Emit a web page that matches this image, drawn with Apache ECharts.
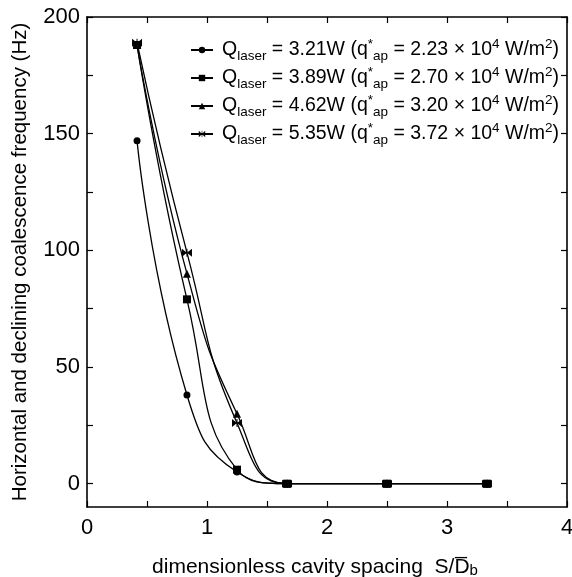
<!DOCTYPE html>
<html><head><meta charset="utf-8">
<script src="https://cdn.jsdelivr.net/npm/echarts@6/dist/echarts.min.js"></script>
<style>html,body{margin:0;padding:0;background:#fff}#c{width:572px;height:577px}</style>
</head><body><div id="c"></div>
<script>
const spacing = [0.417, 0.833, 1.25, 1.667, 2.5, 3.333];
const q321 = [147, 38, 5, 0, 0, 0];
const q389 = [188, 79, 6, 0, 0, 0];
const q462 = [188, 90, 30, 0, 0, 0];
const q535 = [189, 99, 26, 0, 0, 0];
const xLabels = [0, 1, 2, 3, 4];
const yLabels = [0, 50, 100, 150, 200];
const xTicks = [0, 0.5, 1, 1.5, 2, 2.5, 3, 3.5, 4];
const yTicks = [0, 25, 50, 75, 100, 125, 150, 175, 200];
const legendNames = ['s1', 's2', 's3', 's4'];
const legendRich = {
  s1: 'Q{sub|laser}{n| = 3.21W (q}{sup|*}{sub|ap}{n| = 2.23 × 10}{sup|4}{n| W/m}{sup|2}{n|)}',
  s2: 'Q{sub|laser}{n| = 3.89W (q}{sup|*}{sub|ap}{n| = 2.70 × 10}{sup|4}{n| W/m}{sup|2}{n|)}',
  s3: 'Q{sub|laser}{n| = 4.62W (q}{sup|*}{sub|ap}{n| = 3.20 × 10}{sup|4}{n| W/m}{sup|2}{n|)}',
  s4: 'Q{sub|laser}{n| = 5.35W (q}{sup|*}{sub|ap}{n| = 3.72 × 10}{sup|4}{n| W/m}{sup|2}{n|)}'
};
const symbols = ['circle', 'rect', 'triangle', 'path://M0,0L10,5L0,10Z M20,0L10,5L20,10Z M9,0L11,0L11,10L9,10Z'];
const sizes = [7, 8, 8, [10, 8]];
const values = [q321, q389, q462, q535];

const FONT = '"Liberation Sans", Arial, sans-serif';
const chart = echarts.init(document.getElementById('c'));
const series = values.map((v, i) => ({
  name: legendNames[i],
  type: 'line',
  data: spacing.map((x, j) => [x, v[j]]),
  smooth: 0.5,
  symbol: symbols[i],
  symbolSize: sizes[i],
  showSymbol: true,
  lineStyle: { color: '#000', width: 1.3 },
  itemStyle: { color: '#000', borderWidth: 0 },
  z: 3 + i
}));

const axisCommon = {
  axisLine: { show: true, onZero: false, lineStyle: { color: '#000', width: 1.6 } },
  axisTick: { show: true, inside: true, length: 6, lineStyle: { color: '#000', width: 1.2 } },
  splitLine: { show: false }
};

chart.setOption({
  animation: false,
  backgroundColor: '#fff',
  grid: { left: 87, right: 5, top: 17, bottom: 70, containLabel: false, outerBoundsMode: 'none' },
  legend: {
    data: legendNames,
    orient: 'vertical',
    left: 185,
    top: 32,
    itemWidth: 22,
    itemHeight: 8,
    itemGap: 2,
    formatter: n => legendRich[n],
    textStyle: {
      color: '#000', fontFamily: FONT, fontSize: 19.5, lineHeight: 26, padding: [0, 0, 0, 4],
      rich: {
        n: { fontSize: 19.5, fontFamily: FONT, color: '#000', lineHeight: 26, verticalAlign: 'middle' },
        sub: { fontSize: 13.5, fontFamily: FONT, color: '#000', lineHeight: 14, verticalAlign: 'bottom' },
        sup: { fontSize: 13.5, fontFamily: FONT, color: '#000', lineHeight: 10, verticalAlign: 'top' }
      }
    }
  },
  xAxis: [{
    type: 'value', min: 0, max: 4, position: 'bottom',
    ...axisCommon,
    axisTick: { ...axisCommon.axisTick, customValues: xTicks },
    axisLabel: { customValues: xLabels, color: '#000', fontSize: 22, fontFamily: FONT, margin: 10 },
    name: 'dimensionless cavity spacing  S/D\u0305{sub|b}',
    nameLocation: 'middle',
    nameGap: 50,
    nameTextStyle: {
      color: '#000', fontSize: 21, fontFamily: FONT, padding: [0, 24, 0, 0],
      rich: { sub: { fontSize: 15, fontFamily: FONT, color: '#000', verticalAlign: 'bottom', lineHeight: 12 } }
    }
  }, {
    type: 'value', min: 0, max: 4, position: 'top',
    ...axisCommon,
    axisTick: { ...axisCommon.axisTick, customValues: xTicks },
    axisLabel: { show: false }
  }],
  yAxis: [{
    type: 'value', min: -10, max: 200, position: 'left',
    ...axisCommon,
    axisTick: { ...axisCommon.axisTick, customValues: yTicks },
    axisLabel: { customValues: yLabels, color: '#000', fontSize: 22, fontFamily: FONT, margin: 7 },
    name: 'Horizontal and declining coalescence frequency (Hz)',
    nameLocation: 'middle',
    nameGap: 56,
    nameTextStyle: { color: '#000', fontSize: 20.5, fontFamily: FONT }
  }, {
    type: 'value', min: -10, max: 200, position: 'right',
    ...axisCommon,
    axisTick: { ...axisCommon.axisTick, customValues: yTicks },
    axisLabel: { show: false }
  }],
  series: series
});
</script></body></html>
